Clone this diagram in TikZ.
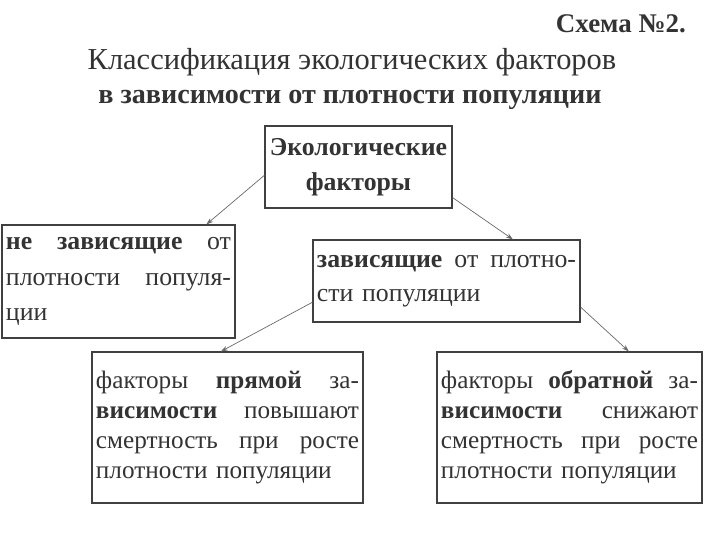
\documentclass[tikz,border=0pt]{standalone}
\usepackage{fontspec}
\setmainfont{Liberation Serif}
\usetikzlibrary{arrows.meta}

\definecolor{ink}{HTML}{333333}
\definecolor{framegray}{HTML}{404040}
\definecolor{arrowgray}{HTML}{6A6A6A}

% one justified line of a box: width, words split by \hfill
\newcommand{\jline}[2]{\leavevmode\hbox to #1{#2}}

\begin{document}
\begin{tikzpicture}[x=0.03cm, y=-0.03cm,
  factor/.style={draw=framegray, line width=0.9pt, fill=white, text=ink,
    align=left, inner xsep=0.12cm},
  link/.style={-{Stealth[length=6pt,width=4pt]}, arrowgray, line width=0.6pt}]

\useasboundingbox[fill=white] (0,0) rectangle (720,540);

% Heading
\node[ink, anchor=east, font=\bfseries\fontsize{23}{26}\selectfont] (scheme) at (690,24) {Схема №2.};
\node[ink, font=\fontsize{26}{30}\selectfont] (title) at (352,62) {Классификация экологических факторов};
\node[ink, font=\bfseries\fontsize{24}{28}\selectfont] (subtitle) at (350,100) {в зависимости от плотности популяции};

% Boxes
\node[factor, align=center, minimum width=5.61cm, minimum height=2.46cm,
  font=\bfseries\fontsize{22}{30}\selectfont] (eco) at (358.5,167)
{Экологические\\факторы};

\node[factor, text width=6.75cm, minimum height=3.39cm,
  font=\fontsize{22}{30}\selectfont] (indep) at (118.5,281.5)
{\jline{6.75cm}{\textbf{не}\hfill\textbf{зависящие}\hfill от}\\
 \jline{6.75cm}{плотности\hfill популя-}\\
 ции};

\node[factor, text width=7.77cm, minimum height=2.46cm,
  font=\fontsize{22}{29}\selectfont] (dep) at (446.5,281)
{\jline{7.77cm}{\textbf{зависящие}\hfill от\hfill плотно-}\\
 сти популяции};

\node[factor, text width=7.89cm, minimum height=4.53cm,
  font=\fontsize{21.5}{25.5}\selectfont] (direct) at (227.5,427.5)
{\jline{7.89cm}{факторы\hfill\textbf{прямой}\hfill за-}\\
 \jline{7.89cm}{\textbf{висимости}\hfill повышают}\\
 \jline{7.89cm}{смертность\hfill при\hfill росте}\\
 плотности популяции};

\node[factor, text width=7.71cm, minimum height=4.53cm,
  font=\fontsize{21.5}{25.5}\selectfont] (inverse) at (569.5,427.5)
{\jline{7.71cm}{факторы\hfill\textbf{обратной}\hfill за-}\\
 \jline{7.71cm}{\textbf{висимости}\hfill снижают}\\
 \jline{7.71cm}{смертность\hfill при\hfill росте}\\
 плотности популяции};

% Arrows
\draw[link] (eco.185) -- (indep.33);
\draw[link] (eco.-18) -- (dep.32);
\draw[link] (dep.189) -- (direct.95);
\draw[link] (dep.-11) -- (inverse.52);

\end{tikzpicture}
\end{document}
